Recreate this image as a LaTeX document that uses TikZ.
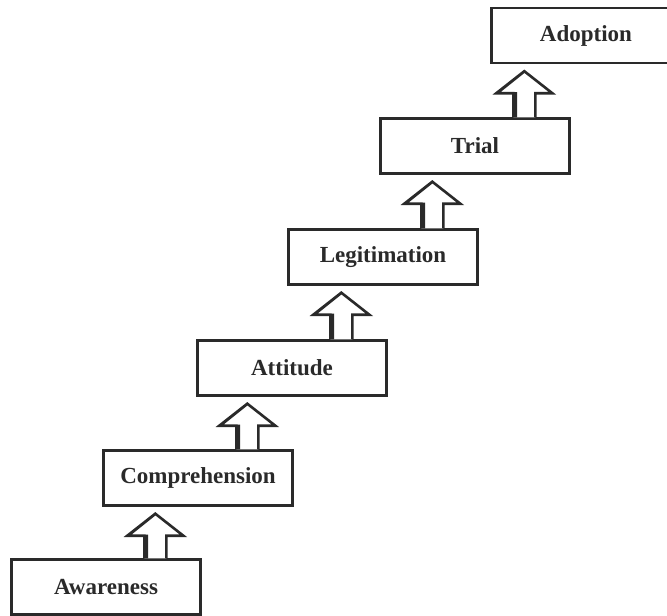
\documentclass[tikz,border=0pt]{standalone}
\usepackage{fontspec}
\setmainfont{Liberation Serif}
\usetikzlibrary{calc}

\definecolor{ink}{HTML}{2A2A2A}

\tikzset{
  stage/.style={draw=ink, line width=2.4pt, fill=white, rectangle,
    minimum width=189pt, minimum height=55pt, inner sep=0pt,
    text=ink, font=\fontsize{23}{25}\selectfont\bfseries},
  blockarrow/.style={draw=ink, line width=1.8pt, fill=white, line join=miter},
  arrowshade/.style={draw=ink, line width=4.5pt},
}

% hollow up-arrow from the top of box #1 to just below box #2
\newcommand{\stepup}[2]{%
  \path let \p1=($(#1.north west)+(145pt,0)$),
            \p2=(#2.south),
            \n1={\y2-7pt}, \n2={\y2-29pt} in
    [blockarrow] (\x1-11pt,\y1) -- (\x1-11pt,\n2) -- (\x1-28pt,\n2)
      -- (\x1,\n1) -- (\x1+28pt,\n2) -- (\x1+11pt,\n2) -- (\x1+11pt,\y1)
    [arrowshade] (\x1-8.5pt,\y1) -- (\x1-8.5pt,\n2+1pt)
    [arrowshade, line width=2.6pt] (\x1-26pt,\n2+1pt) -- (\x1-1pt,\n1-1pt);
}

\begin{document}
\begin{tikzpicture}[x=1pt, y=-1pt]
  \useasboundingbox (0,0) rectangle (667,616);
  \clip (0,0) rectangle (667,616);

  \node[stage] (aw) at (106,587) {Awareness};
  \node[stage] (co) at (198,478) {Comprehension};
  \node[stage] (at) at (292,368) {Attitude};
  \node[stage] (le) at (383,257) {Legitimation};
  \node[stage] (tr) at (475,146) {Trial};
  \node[stage] (ad) at (586,35.5) {Adoption};

  \stepup{aw}{co}
  \stepup{co}{at}
  \stepup{at}{le}
  \stepup{le}{tr}
  \stepup{tr}{ad}
\end{tikzpicture}
\end{document}
